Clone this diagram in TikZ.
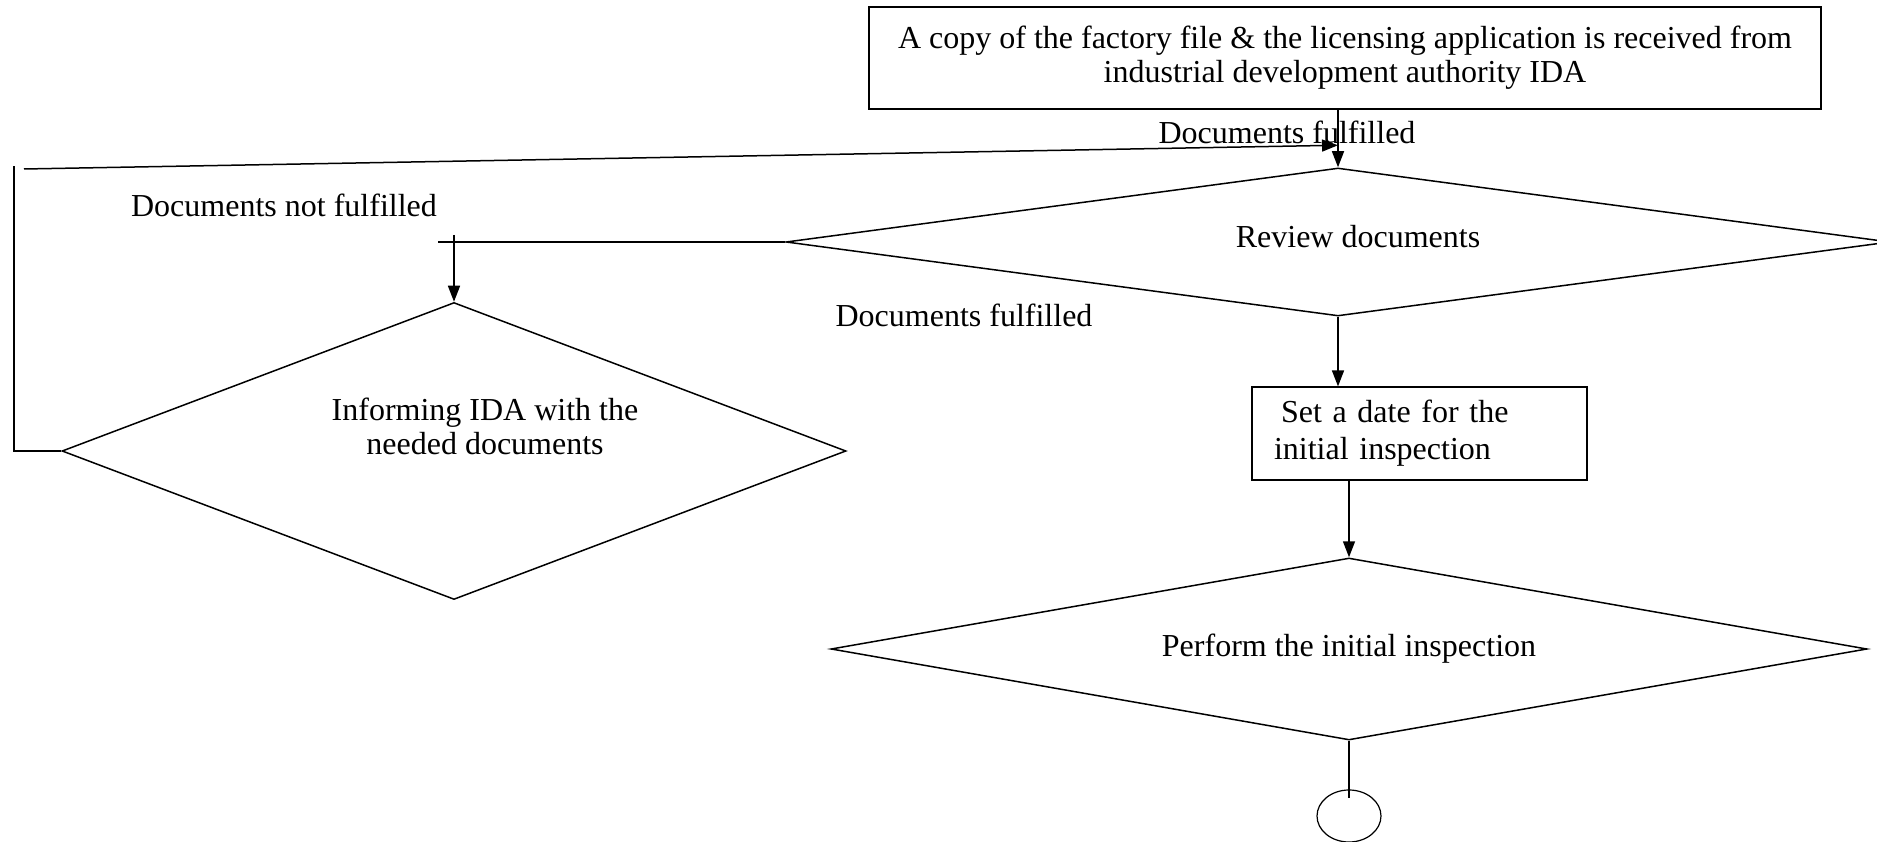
\documentclass[tikz,border=0pt]{standalone}
\usepackage{fontspec}
\setmainfont{Liberation Serif}
\usetikzlibrary{shapes.geometric, positioning, arrows.meta}
\tikzset{
>={Triangle[length=16pt,width=12pt]}, % filled arrow heads
every node/.style={font=\fontsize{32}{34}\selectfont},
process/.style={draw, rectangle, inner sep=0pt, line width=1.2pt}, % boxes
decision/.style={draw, diamond, inner sep=0pt, line width=1.5pt, align=center}, % set the size per node
terminal/.style={draw, ellipse, line width=1.2pt, minimum width=64pt, minimum height=52pt},
flow/.style={line width=1.5pt},
}

\begin{document}
\begin{tikzpicture}[x=1pt,y=-1pt]
\useasboundingbox (0,0) rectangle (1877,842);

\node[process, minimum width=952pt, minimum height=102pt, align=center] (copy) at (1345,58)
    {A copy of the factory file \& the licensing application is received from\\industrial development authority IDA};
\node[decision, aspect=7.4, minimum width=1104pt, minimum height=148pt,
    label={[xshift=20pt, yshift=5pt]center:Review documents}] (review) at (1338,242) {};
\node[decision, aspect=2.6, minimum width=784pt, minimum height=297pt,
    label={[align=center, xshift=31pt, yshift=25pt]center:Informing IDA with the\\needed documents}] (ida) at (454,451) {};
\node[process, minimum width=335pt, minimum height=93pt, text width=291pt, align=left,
    font=\fontsize{32}{37}\selectfont] (date) at (1419.5,433.5)
    {\hspace*{7pt}Set a date for the\\initial inspection};
\node[decision, aspect=5.7, minimum width=1036pt, minimum height=182pt] (perform) at (1349,649)
    {Perform the initial inspection};
\node[terminal] (endc) at (1349,816) {};

% labels
\node (yes1) at (1287,132) {Documents fulfilled};
\node (no) at (284,205) {Documents not fulfilled};
\node (yes2) at (964,315) {Documents fulfilled};

% loop back to review
\coordinate (corner) at (14,451);
\coordinate (cornertop) at (14,166);
\coordinate (back) at (24,169);
\coordinate (split) at (ida.north |- review.west);

\draw[flow,->] (review.north |- copy.south) -- (review.north);
\draw[flow] (ida.west) -- (corner) -- (cornertop);
\draw[flow,->] (back) -- ([yshift=22pt]review.north);
\draw[flow] (review.west) -- ([xshift=-16pt]split);
\draw[flow,->] ([yshift=7pt]split) -- (ida.north);
\draw[flow,->] (review.south) -- (review.south |- date.north);
\draw[flow,->] (perform.north |- date.south) -- (perform.north);
\draw[flow] (perform.south) -- ([yshift=-9pt]endc.north);
\end{tikzpicture}
\end{document}
